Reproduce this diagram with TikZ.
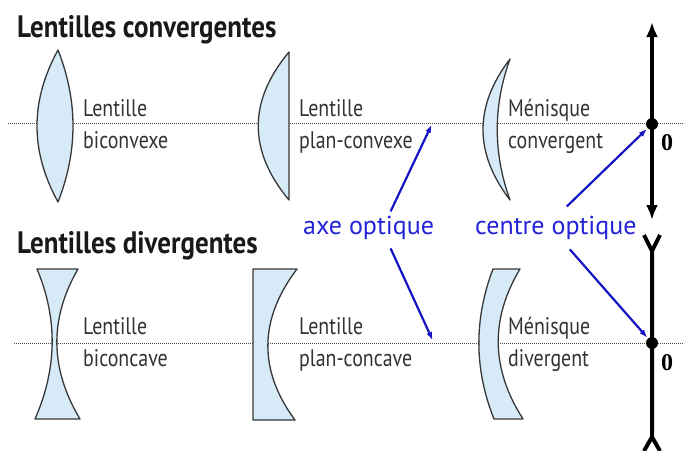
\documentclass[tikz,border=0pt]{standalone}
\usepackage{fontspec}
\setmainfont{PT Sans}
\newfontfamily\capfont[FakeStretch=0.83]{PT Sans}
\newfontfamily\titlefont[FakeStretch=0.87]{PT Sans}
\newfontfamily\zerofont{Liberation Serif}
\usetikzlibrary{arrows.meta}
\definecolor{lensblue}{RGB}{214,234,248}
\definecolor{lensedge}{RGB}{55,55,55}
\definecolor{labelblue}{RGB}{35,35,215}
\definecolor{arrowblue}{RGB}{20,20,195}

\begin{document}
\begin{tikzpicture}[x=1pt,y=-1pt,
    lens/.style={fill=lensblue,draw=lensedge,line width=1.3pt,line join=round},
    optaxis/.style={draw=black!70,line width=0.7pt,dash pattern=on 1.2pt off 0.8pt},
    title/.style={anchor=base west,inner sep=0pt,text=black!90,font=\titlefont\bfseries\fontsize{31}{31}\selectfont},
    caption/.style={anchor=base west,inner sep=0pt,text=black!80,font=\capfont\fontsize{24}{24}\selectfont},
    bluelabel/.style={anchor=base west,inner sep=0pt,text=labelblue,font=\fontsize{26}{26}\selectfont},
    pointer/.style={draw=arrowblue,line width=2.2pt,shorten >=1pt,-{Latex[length=8pt,width=6pt]}},
    thinlens/.style={line width=4pt,black},
    centre/.style={circle,fill=black,inner sep=0pt,minimum size=12pt},
    zero/.style={inner sep=0pt,font=\zerofont\bfseries\fontsize{24}{24}\selectfont}]
  \useasboundingbox (0,0) rectangle (691,450);

  % titles
  \node[title] (convtitle) at (17,37) {Lentilles convergentes};
  \node[title] (divtitle) at (17,253) {Lentilles divergentes};

  % optical axes
  \draw[optaxis] (8,123) -- (684,123);
  \draw[optaxis] (14,343) -- (684,343);

  % converging lenses
  \draw[lens] (58,50) .. controls (30,101) and (30,151) .. (58,202)
    .. controls (78,151) and (78,101) .. (58,50) -- cycle;
  \draw[lens] (289,52) .. controls (248,101) and (248,151) .. (289,200) -- cycle;
  \draw[lens] (510,59) .. controls (474,106) and (474,153) .. (510,200)
    .. controls (493,153) and (493,106) .. (510,59) -- cycle;

  % diverging lenses
  \draw[lens] (37,269) -- (78,269) .. controls (49,319) and (50,369) .. (80,419)
    -- (35,419) .. controls (57,369) and (58,319) .. (37,269) -- cycle;
  \draw[lens] (253,269) -- (297,269) .. controls (259,319) and (258,370) .. (295,420)
    -- (253,420) -- cycle;
  \draw[lens] (493,269) -- (520,269) .. controls (490,319) and (491,369) .. (523,419)
    -- (494,419) .. controls (474,369) and (474,319) .. (493,269) -- cycle;

  % names of the lenses
  \node[caption] (bicvx1) at (83,116) {Lentille};
  \node[caption] (bicvx2) at (83,148) {biconvexe};
  \node[caption] (plcvx1) at (299,116) {Lentille};
  \node[caption] (plcvx2) at (299,148) {plan-convexe};
  \node[caption] (mencv1) at (508,116) {Ménisque};
  \node[caption] (mencv2) at (508,148) {convergent};
  \node[caption] (bicav1) at (83,334) {Lentille};
  \node[caption] (bicav2) at (83,366) {biconcave};
  \node[caption] (plcav1) at (299,334) {Lentille};
  \node[caption] (plcav2) at (299,366) {plan-concave};
  \node[caption] (mendv1) at (508,334) {Ménisque};
  \node[caption] (mendv2) at (508,366) {divergent};

  % thin lens symbols
  \draw[thinlens,{Latex[length=15pt,width=12pt]}-{Latex[length=15pt,width=12pt]}] (652,22) -- (652,220);
  \node[centre] (o1) at (652,124) {};
  \node[zero] (z1) at (667,143) {0};
  \draw[thinlens] (644,235) -- (652,251) -- (660,235) (652,251) -- (652,437)
    (644,451) -- (652,437) -- (660,451);
  \node[centre] (o2) at (652,343) {};
  \node[zero] (z2) at (667,363) {0};

  % labels and pointers
  \node[bluelabel] (axe) at (303,234) {axe optique};
  \node[bluelabel] (centre) at (475,234) {centre optique};
  \coordinate (ax1) at (432,124);
  \coordinate (ax2) at (433,341);
  \draw[pointer] ([xshift=22pt,yshift=4pt]axe.north) -- (ax1);
  \draw[pointer] ([xshift=22pt,yshift=-9pt]axe.south) -- (ax2);
  \draw[pointer] ([xshift=11pt,yshift=9pt]centre.north) -- (o1);
  \draw[pointer] ([xshift=14pt,yshift=-10pt]centre.south) -- (o2);
\end{tikzpicture}
\end{document}
